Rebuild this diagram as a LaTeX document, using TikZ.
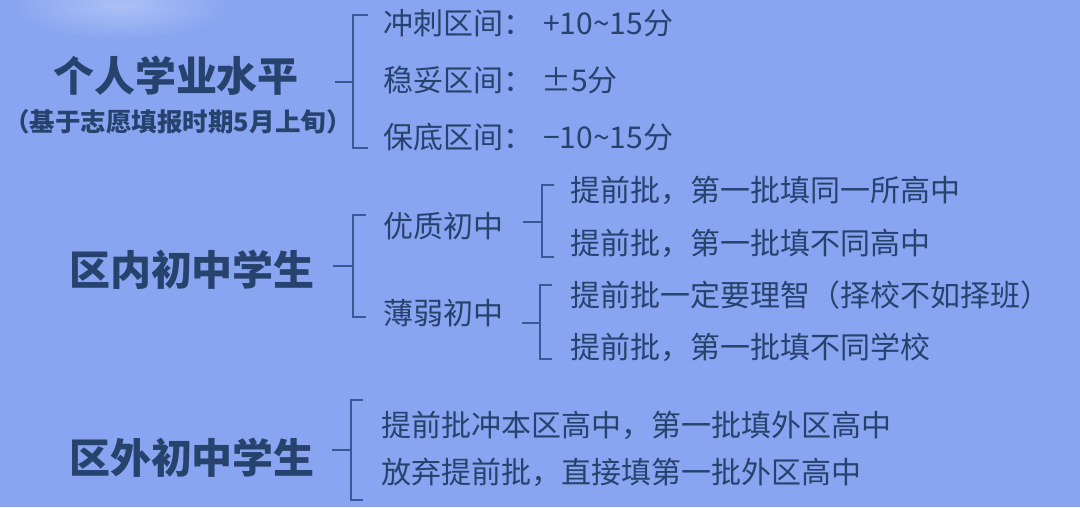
\documentclass[tikz,border=0pt]{standalone}
\usepackage{fontspec}
\setmainfont{Noto Sans CJK SC}
\definecolor{bgc}{RGB}{137,165,241}
\definecolor{txc}{RGB}{40,66,110}
\definecolor{brc}{RGB}{56,88,150}
\begin{document}
\begin{tikzpicture}[x=1pt,y=-1pt,
  br/.style={draw=brc, line width=2.8pt},
  big/.style={font=\bfseries\fontsize{41}{44}\selectfont, text=txc, inner sep=0pt},
  subt/.style={font=\bfseries\fontsize{25.5}{28}\selectfont, text=txc, inner sep=0pt},
  leaf/.style={font=\fontsize{30}{34}\selectfont, text=txc, inner sep=0pt, anchor=west}]
\fill[bgc] (0,0) rectangle (1080,507);
\useasboundingbox (0,0) rectangle (1080,507);
\shade[inner color=white!30!bgc, outer color=bgc] (120,5) ellipse (110 and 35);

% group 1
\node[big] (g1) at (176,76) {个人学业水平};
\node[subt] (g1s) at (178,122) {（基于志愿填报时期5月上旬）};
\node[leaf] (a1) at (383,23) {冲刺区间：\hspace{10pt}+10\textasciitilde15分};
\node[leaf] (a2) at (383,80) {稳妥区间：\hspace{8pt}±5分};
\node[leaf] (a3) at (383,137) {保底区间：\hspace{10pt}−10\textasciitilde15分};
\coordinate (d1) at (335,82);
\coordinate (k1) at (353,82);
\coordinate (t1) at (353,15);
\coordinate (u1) at (353,148);
\draw[br] (d1) -- (k1);
\draw[br] ([xshift=15pt]t1) -- (t1) -- (u1) -- ([xshift=15pt]u1);

% group 2
\node[big] (g2) at (192,270) {区内初中学生};
\node[leaf] (m1) at (383,226) {优质初中};
\node[leaf] (m2) at (383,313) {薄弱初中};
\coordinate (d2) at (333,266);
\coordinate (k2) at (353,266);
\coordinate (t2) at (353,215);
\coordinate (u2) at (353,317);
\draw[br] (d2) -- (k2);
\draw[br] ([xshift=13pt]t2) -- (t2) -- (u2) -- ([xshift=13pt]u2);

\node[leaf] (l1) at (570,190) {提前批，第一批填同一所高中};
\node[leaf] (l2) at (570,243) {提前批，第一批填不同高中};
\coordinate (d2a) at (523,222);
\coordinate (k2a) at (542,222);
\coordinate (t2a) at (542,185);
\coordinate (u2a) at (542,257);
\draw[br] (d2a) -- (k2a);
\draw[br] ([xshift=12pt]t2a) -- (t2a) -- (u2a) -- ([xshift=12pt]u2a);

\node[leaf] (l3) at (570,295) {提前批一定要理智（择校不如择班）};
\node[leaf] (l4) at (570,347) {提前批，第一批填不同学校};
\coordinate (d2b) at (522,323);
\coordinate (k2b) at (540,323);
\coordinate (t2b) at (540,285);
\coordinate (u2b) at (540,359);
\draw[br] (d2b) -- (k2b);
\draw[br] ([xshift=12pt]t2b) -- (t2b) -- (u2b) -- ([xshift=12pt]u2b);

% group 3
\node[big] (g3) at (192,458) {区外初中学生};
\node[leaf] (o1) at (381,425) {提前批冲本区高中，第一批填外区高中};
\node[leaf] (o2) at (381,472) {放弃提前批，直接填第一批外区高中};
\coordinate (d3) at (332,450);
\coordinate (k3) at (351,450);
\coordinate (t3) at (351,400);
\coordinate (u3) at (351,500);
\draw[br] (d3) -- (k3);
\draw[br] ([xshift=12pt]t3) -- (t3) -- (u3) -- ([xshift=12pt]u3);
\end{tikzpicture}
\end{document}
